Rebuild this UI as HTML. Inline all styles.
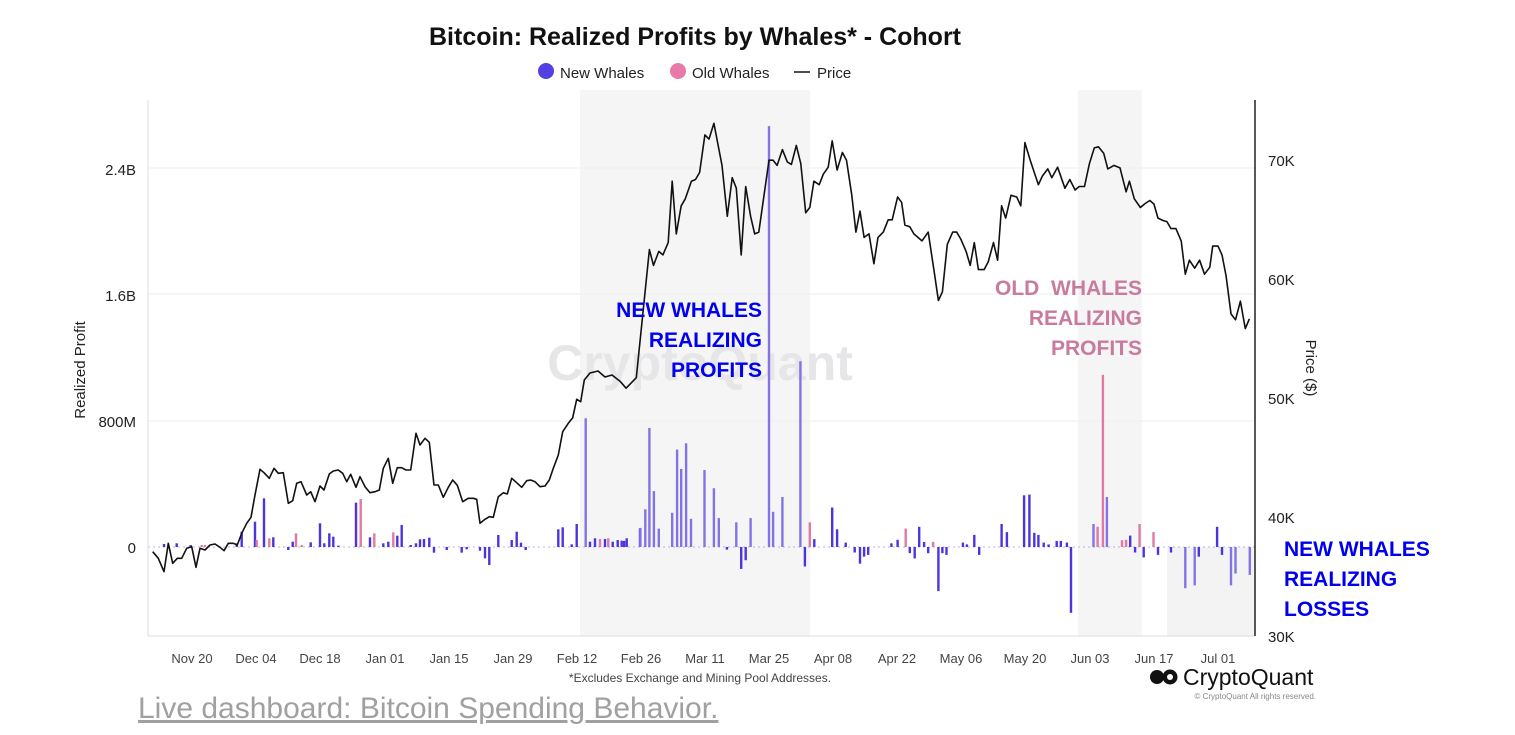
<!DOCTYPE html>
<html><head><meta charset="utf-8"><style>
body{margin:0;background:#fff;width:1515px;height:735px;overflow:hidden;font-family:"Liberation Sans",sans-serif}
svg{position:absolute;left:0;top:0}
</style></head><body>
<svg id="s" width="1515" height="735" xmlns="http://www.w3.org/2000/svg" font-family="Liberation Sans, sans-serif">
<rect x="580" y="90" width="230" height="546" fill="#f5f5f5"/>
<rect x="1078" y="90" width="64" height="546" fill="#f5f5f5"/>
<rect x="1167" y="547" width="88" height="89" fill="#f3f3f3"/>
<g stroke="#eeeeee" stroke-width="1">
<line x1="148" y1="168" x2="1255" y2="168"/><line x1="148" y1="294" x2="1255" y2="294"/><line x1="148" y1="421" x2="1255" y2="421"/><line x1="148" y1="547" x2="1255" y2="547" stroke-dasharray="2,3" stroke="#b8b0ee"/>
</g>
<text x="700" y="380" font-size="50" fill="#e6e6e8" text-anchor="middle" font-weight="bold">CryptoQuant</text>
<line x1="148" y1="100" x2="148" y2="636" stroke="#ddd"/>
<line x1="148" y1="636" x2="1255" y2="636" stroke="#ddd"/>
<line x1="1255" y1="100" x2="1255" y2="636" stroke="#222" stroke-width="1.5"/>
<g id="bars"></g>
<polyline id="pl" fill="none" stroke="#111" stroke-width="1.6" stroke-linejoin="round"/>
<text x="695" y="45" font-size="25" font-weight="bold" text-anchor="middle" fill="#111">Bitcoin: Realized Profits by Whales* - Cohort</text>
<circle cx="546" cy="71" r="8" fill="#5340e0"/><text x="560" y="78" font-size="15" fill="#222">New Whales</text>
<circle cx="678" cy="71" r="8" fill="#e77aa8"/><text x="692" y="78" font-size="15" fill="#222">Old Whales</text>
<line x1="794" y1="72" x2="810" y2="72" stroke="#111" stroke-width="1.5"/><text x="817" y="78" font-size="15" fill="#222">Price</text>
<g font-size="15" fill="#222" text-anchor="end">
<text x="136" y="175">2.4B</text><text x="136" y="301">1.6B</text><text x="136" y="427">800M</text><text x="136" y="553">0</text></g>
<g font-size="15" fill="#222">
<text x="1268" y="166">70K</text><text x="1268" y="285">60K</text><text x="1268" y="404">50K</text><text x="1268" y="523">40K</text><text x="1268" y="642">30K</text></g>
<text transform="translate(85,370) rotate(-90)" font-size="15" text-anchor="middle" fill="#222">Realized Profit</text>
<text transform="translate(1306,368) rotate(90)" font-size="15" text-anchor="middle" fill="#222">Price ($)</text>
<g font-size="13" fill="#444" text-anchor="middle">
<text x="192" y="663">Nov 20</text><text x="256" y="663">Dec 04</text><text x="320" y="663">Dec 18</text><text x="385" y="663">Jan 01</text><text x="449" y="663">Jan 15</text><text x="513" y="663">Jan 29</text><text x="577" y="663">Feb 12</text><text x="641" y="663">Feb 26</text><text x="705" y="663">Mar 11</text><text x="769" y="663">Mar 25</text><text x="833" y="663">Apr 08</text><text x="897" y="663">Apr 22</text><text x="961" y="663">May 06</text><text x="1025" y="663">May 20</text><text x="1090" y="663">Jun 03</text><text x="1154" y="663">Jun 17</text><text x="1218" y="663">Jul 01</text></g>
<text x="700" y="682" font-size="12" fill="#444" text-anchor="middle">*Excludes Exchange and Mining Pool Addresses.</text>
<circle cx="1157" cy="677" r="7" fill="#111"/><circle cx="1170" cy="677" r="7.5" fill="#111"/><circle cx="1170" cy="677" r="3" fill="#fff"/>
<text x="1183" y="685" font-size="23" fill="#111">CryptoQuant</text>
<text x="1316" y="699" font-size="8" fill="#888" text-anchor="end">© CryptoQuant All rights reserved.</text>
<text x="138" y="718" font-size="30" fill="#a0a0a0" text-decoration="underline">Live dashboard: Bitcoin Spending Behavior.</text>
<g font-size="21" font-weight="bold" fill="#0000ee" text-anchor="end">
<text x="762" y="317">NEW WHALES</text><text x="762" y="347">REALIZING</text><text x="762" y="377">PROFITS</text></g>
<g font-size="21" font-weight="bold" fill="#c97a9f" text-anchor="end">
<text x="1142" y="295" xml:space="preserve">OLD  WHALES</text><text x="1142" y="325">REALIZING</text><text x="1142" y="355">PROFITS</text></g>
<g font-size="21" font-weight="bold" fill="#0000ee">
<text x="1284" y="556">NEW WHALES</text><text x="1284" y="586">REALIZING</text><text x="1284" y="616">LOSSES</text></g>
</svg>
<script>
var z1=[[38,515],[55,535],[72,575],[85,490],[98,550],[112,535],[125,535],[140,505],[155,500],[168,562],[180,505],[195,510],[210,495],[225,492],[240,502],[252,512],[265,490],[280,490],[292,495],[305,460],[320,430],[333,412],[345,345],[360,268],[372,278],[388,295],[402,265],[415,280],[430,278],[445,370],[458,362],[470,310],[483,305],[500,345],[512,335],[525,365],[540,318],[552,330],[568,282],[580,273],[595,270],[608,280],[620,305],[632,283],[648,322],[660,290],[675,320],[690,338],[705,335],[718,330],[730,265],[745,235],[758,310],[772,263],[785,263],[798,270],[812,270],[828,160],[840,195],[855,175],[868,187],[882,315],[895,315],[910,352],[925,322],[938,300],[952,316],[968,365],[985,355],[1000,355],[1010,358],[1020,430],[1035,418],[1048,410],[1060,412],[1075,350],[1090,338],[1102,342],[1115,295],[1130,308],[1145,322],[1160,302],[1172,300],[1185,305],[1200,320],[1215,318],[1228,300],[1240,265],[1255,225],[1268,155],[1285,130],[1298,113],[1310,58],[1322,65],[1333,0]];
var pts=z1.map(function(p){return [140+p[0]/3,380+p[1]/3]});
pts.push([590,373],[598,371],[605,377],[612,375]);
var z2=[[0,830],[15,850],[40,820],[72,455],[82,500],[95,460],[105,470],[118,435],[128,260],[138,410],[150,330],[160,310],[175,260],[185,255],[195,235],[208,128],[218,140],[230,95],[250,215],[263,360],[275,250],[285,280],[297,470],[308,275],[320,360],[330,410],[340,405],[365,200],[375,200],[385,215],[398,170],[410,205],[420,212],[432,158],[443,210],[455,350],[465,335],[475,260],[488,270],[498,240],[510,220],[520,145],[532,228],[545,178],[555,200],[568,300],[578,405],[588,345],[598,420],[610,410],[622,495],[632,420],[645,405],[657,370],[667,370],[680,305],[690,320],[698,385],[710,390],[720,410],[740,430],[755,405],[770,520],[780,600],[790,575],[802,440],[815,405],[825,405],[835,425],[848,460],[858,500],[868,435],[878,512],[892,512],[902,490],[915,435],[925,485],[935,330],[945,365],[958,300],[972,305],[982,330],[992,150],[1005,200],[1025,270],[1035,245],[1048,225],[1058,250],[1072,220],[1090,280],[1102,255],[1115,285],[1125,275],[1138,275],[1150,210],[1162,165],[1172,162],[1185,180],[1195,225],[1210,215],[1225,222],[1240,290],[1248,260],[1260,310],[1275,335],[1285,325],[1298,315],[1308,325],[1318,365],[1330,372],[1340,375],[1350,395],[1362,395],[1375,430],[1385,525],[1395,485],[1408,508],[1420,485],[1432,525],[1445,505],[1452,445],[1465,445],[1475,470],[1485,530],[1497,638],[1508,655],[1520,602],[1532,680],[1542,652]];
z2.forEach(function(p){pts.push([620+p[0]/2.45,90+p[1]/2.85])});
document.getElementById('pl').setAttribute('points',pts.map(function(p){return p[0].toFixed(1)+','+p[1].toFixed(1)}).join(' '));
var b1=[[72,492,'b'],[110,490,'b'],[152,495,'b'],[185,495,'p'],[195,495,'p'],[290,490,'b'],[305,455,'b'],[345,425,'b'],[350,480,'p'],[372,355,'b'],[388,475,'p'],[400,472,'b'],[445,510,'b'],[458,485,'b'],[468,460,'p'],[485,495,'p'],[512,487,'b'],[540,430,'b'],[553,490,'b'],[568,460,'b'],[580,470,'b'],[595,497,'b'],[648,368,'b'],[662,357,'p'],[690,472,'b'],[703,460,'p'],[730,490,'b'],[745,485,'b'],[760,457,'p'],[772,467,'b'],[785,435,'b'],[812,495,'b'],[828,490,'b'],[840,478,'b'],[852,477,'b'],[868,473,'b'],[882,518,'b'],[920,510,'b'],[965,518,'b'],[980,508,'b'],[1020,512,'b'],[1035,535,'b'],[1048,555,'b'],[1075,465,'b'],[1115,480,'b'],[1130,455,'b'],[1143,488,'b'],[1157,510,'b'],[1255,448,'b'],[1268,442,'b'],[1295,493,'b'],[1310,432,'b'],[1337,115,'l'],[1350,485,'b'],[1365,475,'b'],[1380,477,'p'],[1395,477,'b'],[1405,475,'p'],[1418,485,'b'],[1433,480,'b'],[1445,482,'b'],[1460,475,'b'],[1500,445,'b']];
var b2=[[10,1285,'b'],[50,1248,'l'],[62,1195,'l'],[72,963,'l'],[83,1143,'l'],[95,1250,'l'],[128,1205,'l'],[140,1025,'l'],[150,1080,'l'],[162,1007,'l'],[174,1222,'l'],[207,1083,'l'],[230,1135,'l'],[242,1220,'l'],[262,1310,'b'],[285,1232,'l'],[297,1365,'b'],[308,1340,'b'],[320,1220,'l'],[365,103,'l'],[375,1202,'l'],[398,1160,'l'],[442,773,'l'],[453,1358,'b'],[465,1232,'p'],[476,1280,'b'],[520,1190,'b'],[532,1252,'b'],[553,1290,'b'],[575,1318,'b'],[588,1350,'b'],[598,1330,'b'],[608,1325,'b'],[665,1292,'b'],[680,1282,'b'],[700,1250,'p'],[710,1320,'b'],[722,1335,'b'],[733,1245,'b'],[745,1288,'b'],[755,1320,'b'],[767,1288,'p'],[780,1428,'b'],[790,1320,'b'],[800,1325,'b'],[840,1290,'b'],[850,1295,'b'],[868,1268,'b'],[880,1325,'b'],[935,1237,'b'],[948,1260,'b'],[990,1155,'b'],[1003,1153,'b'],[1015,1262,'b'],[1025,1268,'b'],[1038,1290,'b'],[1050,1295,'b'],[1070,1285,'b'],[1080,1285,'b'],[1095,1290,'b'],[1105,1490,'b'],[1160,1237,'l'],[1170,1245,'p'],[1183,812,'p'],[1193,1160,'l'],[1230,1283,'p'],[1240,1282,'p'],[1250,1270,'b'],[1262,1318,'b'],[1273,1237,'p'],[1283,1332,'b'],[1307,1260,'p'],[1318,1325,'b'],[1350,1318,'b'],[1385,1420,'l'],[1408,1412,'l'],[1418,1330,'b'],[1463,1245,'b'],[1475,1325,'b'],[1497,1412,'l'],[1508,1378,'l'],[1543,1382,'l']];
var col={b:'#4b35dc',p:'#e07aa5',l:'#8374e6'};
var h='';
function bar(x,y,c){var y0=547,t=Math.min(y,y0),hh=Math.max(Math.abs(y-y0),1);h+='<rect x="'+(x-1.2).toFixed(1)+'" y="'+t.toFixed(1)+'" width="2.4" height="'+hh.toFixed(1)+'" fill="'+col[c]+'"/>';}
b1.forEach(function(b){bar(140+b[0]/3,380+b[1]/3,b[2])});
b2.forEach(function(b){bar(620+b[0]/2.45,90+b[1]/2.85,b[2])});
document.getElementById('bars').innerHTML=h;
</script>
</body></html>
